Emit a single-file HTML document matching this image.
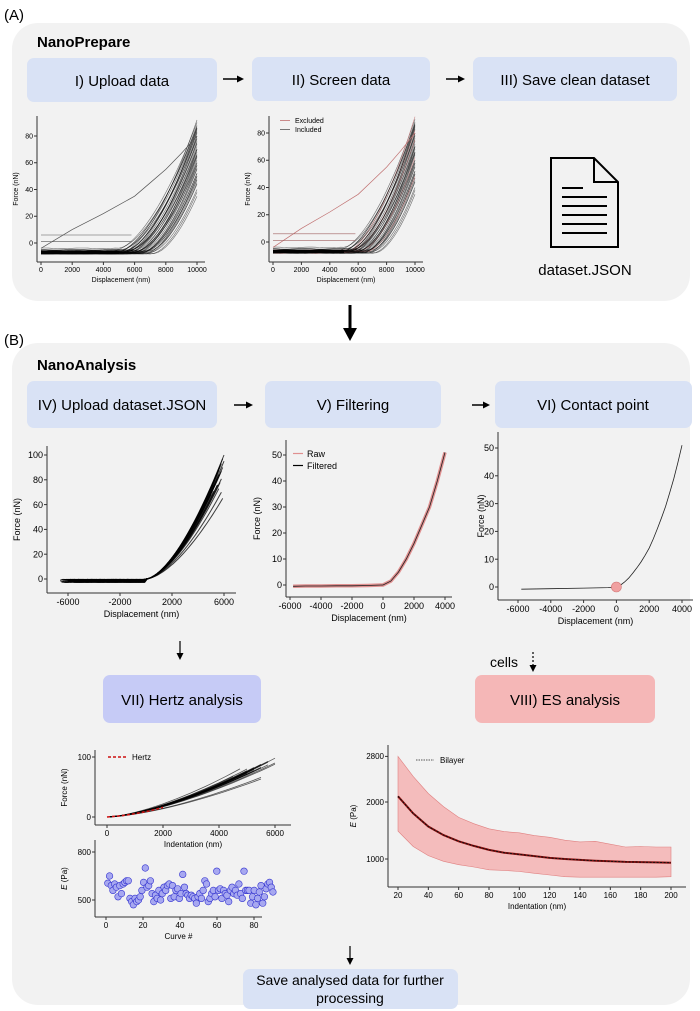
<!DOCTYPE html>
<html><head><meta charset="utf-8"><style>
body{margin:0;background:#fff;width:700px;height:1011px;overflow:hidden;font-family:"Liberation Sans",sans-serif}
svg{display:block}
text{font-family:"Liberation Sans",sans-serif}
</style></head><body>
<svg id="fig" width="700" height="1011" viewBox="0 0 700 1011" xmlns="http://www.w3.org/2000/svg">
<text x="4" y="20" font-size="15">(A)</text>
<rect x="12" y="23" width="678" height="278" rx="26" fill="#f2f2f2"/>
<text x="37" y="47" font-size="15" font-weight="bold">NanoPrepare</text>
<rect x="27" y="58" width="190" height="44" rx="7" fill="#d9e2f5"/>
<text x="122" y="86" font-size="15" text-anchor="middle">I) Upload data</text>
<rect x="252" y="57" width="178" height="44" rx="7" fill="#d9e2f5"/>
<text x="341" y="85" font-size="15" text-anchor="middle">II) Screen data</text>
<rect x="473" y="57" width="204" height="44" rx="7" fill="#d9e2f5"/>
<text x="575" y="85" font-size="15" text-anchor="middle">III) Save clean dataset</text>
<g><line x1="223" y1="79" x2="240" y2="79" stroke="#000" stroke-width="1.5"/><path d="M244 79 L237 75.5 L237 82.5Z"/></g>
<g><line x1="446" y1="79" x2="461" y2="79" stroke="#000" stroke-width="1.5"/><path d="M465 79 L458 75.5 L458 82.5Z"/></g>
<g fill="none" stroke="#000" stroke-width="2">
<path d="M551 158 L594 158 L618 182 L618 247 L551 247Z"/><path d="M594 158 L594 182 L618 182"/>
<line x1="562" y1="188" x2="583" y2="188"/><line x1="562" y1="197" x2="607" y2="197"/><line x1="562" y1="206" x2="607" y2="206"/><line x1="562" y1="215" x2="607" y2="215"/><line x1="562" y1="224" x2="607" y2="224"/><line x1="562" y1="233" x2="607" y2="233"/>
</g>
<text x="585" y="275" font-size="15" text-anchor="middle">dataset.JSON</text>
<g><line x1="350" y1="305" x2="350" y2="330" stroke="#000" stroke-width="3"/><path d="M350 341 L343 328 L357 328Z"/></g>

<text x="4" y="345" font-size="15">(B)</text>
<rect x="12" y="343" width="678" height="662" rx="26" fill="#f2f2f2"/>
<text x="37" y="370" font-size="15" font-weight="bold">NanoAnalysis</text>
<rect x="27" y="381" width="190" height="47" rx="7" fill="#d9e2f5"/>
<text x="122" y="410" font-size="15" text-anchor="middle">IV) Upload dataset.JSON</text>
<rect x="265" y="381" width="176" height="47" rx="7" fill="#d9e2f5"/>
<text x="353" y="410" font-size="15" text-anchor="middle">V) Filtering</text>
<rect x="495" y="381" width="197" height="47" rx="7" fill="#d9e2f5"/>
<text x="593" y="410" font-size="15" text-anchor="middle">VI) Contact point</text>
<g><line x1="234" y1="405" x2="249" y2="405" stroke="#000" stroke-width="1.5"/><path d="M253 405 L246 401.5 L246 408.5Z"/></g>
<g><line x1="472" y1="405" x2="486" y2="405" stroke="#000" stroke-width="1.5"/><path d="M490 405 L483 401.5 L483 408.5Z"/></g>
<g><line x1="180" y1="641" x2="180" y2="655" stroke="#000" stroke-width="1.2"/><path d="M180 660 L176.5 653 L183.5 653Z"/></g>
<text x="490" y="667" font-size="14">cells</text>
<g><line x1="533" y1="652" x2="533" y2="667" stroke="#000" stroke-width="1.2" stroke-dasharray="2,2"/><path d="M533 672 L529.5 665 L536.5 665Z"/></g>
<rect x="103" y="675" width="158" height="48" rx="7" fill="#c6cbf6"/>
<text x="182" y="705" font-size="15" text-anchor="middle">VII) Hertz analysis</text>
<rect x="475" y="675" width="180" height="48" rx="7" fill="#f5b7b7"/>
<text x="565" y="705" font-size="15" text-anchor="middle">VIII) ES analysis</text>
<g><line x1="350" y1="946" x2="350" y2="960" stroke="#000" stroke-width="1.2"/><path d="M350 965 L346.5 958 L353.5 958Z"/></g>
<rect x="243" y="969" width="215" height="40" rx="7" fill="#d9e2f5"/>
<text x="350" y="985" font-size="14" text-anchor="middle">Save analysed data for further</text>
<text x="350" y="1003" font-size="14" text-anchor="middle">processing</text>
</svg>
<script>
// ---- data ----
const rawContacts = [4600,4800,5000,5100,5200,5300,5400,5500,5600,5700,5800,5900,6000,6100,6200,6300,6400,6500,6600,6700,6800,6900,7000,5000,5400,5800,6200,4700,5600,6600,7200,5300,6000,6800,5100,5500,5900,6300,6700,4900,5700,6100,6500,7100];
const rawEndForces = [90,88,85,82,80,84,78,76,75,72,70,68,66,64,62,60,58,55,52,50,47,44,40,92,86,80,70,87,74,48,35,83,65,45,78,70,60,56,50,86,66,58,52,38];
const rawBaselines = [-6,-7,-6,-8,-7,-6,-7,-8,-6,-7,-8,-6,-7,-8,-6,-7,-8,-7,-6,-8,-7,-6,-7,-8,-7,-6,-7,-8,-6,-7,-8,-6,-7,-8,-5,-6,-7,-8,-6,-4,-5,-6,-7,-8];
const excludedIdx = [3,8,14,23,29];
const oddLineX = [0,2000,4000,6000,7000,8000,9000,10000];
const oddLineF = [-4,10,22,35,45,55,67,80];
const flatLevels = [6,1];
const alignedEnd = [100,97,95,93,91,90,88,87,86,85,84,83,82,80,79,78,76,75,73,70,92,89,86,84,81,78,74,71,68,65];
const alignedStartX = [-6600,-6500,-6000,-5800,-6500,-5500,-6200,-5000,-6400,-5900,-6600,-6000,-5300,-6300,-5700,-6500,-6100,-5600,-6200,-6400,-6000,-5800,-6300,-5900,-6100,-6400,-5500,-6000,-6200,-5700];
const alignedEndX = [6000,5900,6000,5800,5700,5900,5600,5800,5500,5700,5600,5900,5500,5800,5400,5600,5500,5700,5300,5800,5750,5650,5550,5450,5350,5300,5200,5100,5000,5900];
const filtX = [-5800,-5000,-4000,-3000,-2000,-1000,0,500,1000,1500,2000,2500,3000,3500,4000];
const filtF = [-0.5,-0.4,-0.4,-0.3,-0.3,-0.2,0,1.5,5,10,16,23,30,40,51];
const cpX = [-5800,-4000,-2000,-500,0,250,500,750,1000,1250,1500,1750,2000,2250,2500,2750,3000,3250,3500,3750,4000];
const cpF = [-0.8,-0.6,-0.4,-0.2,0,0.7,1.8,3.2,5,6.9,9,11.4,14,17.3,21,24.9,29,33.9,39,44.8,51];
const contactPoint = [0,0];
const hertzEndX = [6000,5900,6000,5800,5600,5500,5400,5300,5200,5100,5000,4900,4800,5700,5500,6000,5600,5400,5200,5000,4700,5800,5300,5100,4900,5600];
const hertzEndF = [98,95,90,88,85,82,84,80,78,76,75,72,70,92,66,88,65,86,82,80,72,94,78,74,84,90];
const hertzFitX = [0,500,1000,1500,2000];
const hertzFitF = [0,2,5.5,10,16];
const modulusE = [605,650,590,560,600,580,520,590,540,600,610,620,620,510,490,470,510,490,500,520,560,610,700,580,590,620,540,490,530,510,560,500,540,580,560,590,600,510,590,520,560,570,510,540,660,580,540,530,510,530,520,510,480,520,540,510,560,620,600,490,510,540,560,520,680,560,570,510,560,540,530,490,560,580,540,560,530,600,540,510,680,560,560,560,480,520,560,470,510,550,590,480,520,570,600,610,580,550];
const esX = [20,30,40,50,60,70,80,90,100,110,120,130,140,150,160,170,180,190,200];
const esMean = [2100,1800,1570,1420,1310,1230,1160,1110,1080,1050,1020,1000,985,970,960,950,945,940,935];
const esUpper = [2800,2450,2150,1920,1730,1620,1530,1480,1460,1410,1380,1330,1300,1310,1260,1210,1220,1210,1210];
const esLower = [1490,1220,1060,960,900,860,810,800,780,750,720,690,680,680,680,680,680,680,690];

const NS="http://www.w3.org/2000/svg";
const fig=document.getElementById('fig');
function mk(tag,attrs,parent){const e=document.createElementNS(NS,tag);for(const k in attrs)e.setAttribute(k,attrs[k]);(parent||fig).appendChild(e);return e;}
function lin(d0,d1,p0,p1){return v=>p0+(v-d0)*(p1-p0)/(d1-d0);}
function axes(name,c){
  const g=mk('g',{});
  
  
  mk('line',{x1:c.ax,y1:c.yTop,x2:c.ax,y2:c.ay,stroke:'#333','stroke-width':1},g);
  mk('line',{x1:c.ax,y1:c.ay,x2:c.xRight,y2:c.ay,stroke:'#333','stroke-width':1},g);
  c.xt.forEach(v=>{const x=c.sx(v);mk('line',{x1:x,y1:c.ay,x2:x,y2:c.ay+3,stroke:'#333'},g);
    const t=mk('text',{x:x,y:c.ay+c.fs+3,'font-size':c.fs,'text-anchor':'middle'},g);t.textContent=v;
    });
  c.yt.forEach(v=>{const y=c.sy(v);mk('line',{x1:c.ax-3,y1:y,x2:c.ax,y2:y,stroke:'#333'},g);
    const t=mk('text',{x:c.ax-4,y:y+c.fs*0.35,'font-size':c.fs,'text-anchor':'end'},g);t.textContent=v;
    });
  const xl=mk('text',{x:(c.ax+c.xRight)/2,y:c.ay+c.fs*2+6,'font-size':c.fs,'text-anchor':'middle'},g);xl.textContent=c.xl;
  
  const yx=c.ylx,yy=(c.yTop+c.ay)/2;
  const yl=mk('text',{x:yx,y:yy,'font-size':c.fs,'text-anchor':'middle',transform:`rotate(-90 ${yx} ${yy})`},g);
  if(c.italicE){const ts=mk('tspan',{'font-style':'italic'},yl);ts.textContent='E';const t2=mk('tspan',{},yl);t2.textContent=' (Pa)';}
  else yl.textContent=c.yl;
  
  return g;
}
function pathOf(xs,ys,sx,sy){return xs.map((x,i)=>(i?'L':'M')+sx(x).toFixed(1)+' '+sy(ys[i]).toFixed(1)).join(' ');}
function rawCurve(i,sx,sy){const c=rawContacts[i],e=rawEndForces[i],b=rawBaselines[i];const xs=[],ys=[];
  for(let x=0;x<=10000;x+=250){xs.push(x);ys.push(x<c?b+0.3*Math.sin(x/400+i):b+(e-b)*Math.pow((x-c)/(10000-c),1.7));}
  return pathOf(xs,ys,sx,sy);}
function drawRaw(name,x0,x1,y0,y80,ax,ay,showExcl){
  const sx=lin(0,10000,x0,x1),sy=lin(0,80,y0,y80);
  axes(name,{sx,sy,ax,ay,yTop:ay-146,xRight:x1+8,xt:[0,2000,4000,6000,8000,10000],yt:[0,20,40,60,80],fs:7,xl:'Displacement (nm)',yl:'Force (nN)',ylx:ax-19});
  const g=mk('g',{fill:'none'});
  
  rawContacts.forEach((c,i)=>{const ex=showExcl&&excludedIdx.includes(i);
    const p=mk('path',{d:rawCurve(i,sx,sy),stroke:ex?'#c07070':'#000','stroke-width':0.6,'stroke-opacity':ex?0.8:0.55},g);
    });
  const o=mk('path',{d:pathOf(oddLineX,oddLineF,sx,sy),stroke:showExcl?'#c07070':'#555','stroke-width':0.7},g);
  
  flatLevels.forEach(l=>{const f=mk('path',{d:pathOf([0,5800],[l,l],sx,sy),stroke:showExcl?'#a06060':'#555','stroke-width':0.6},g);
    });
  const bb=mk('path',{d:pathOf([0,5000],[-7,-7],sx,sy),stroke:'#000','stroke-width':3},g);
  
}
drawRaw('chart-upload',41,197,243,136,37,262,false);
drawRaw('chart-screen',273,415,242,133,269,262,true);
[['Excluded','#c07070',123],['Included','#555',132]].forEach(([t,c,y])=>{
  const l=mk('line',{x1:280,y1:y-2.5,x2:290,y2:y-2.5,stroke:c,'stroke-width':0.8});
  
  const tx=mk('text',{x:295,y:y,'font-size':7},);tx.textContent=t;
  });

(function(){
  const sx=lin(-6000,6000,68,224),sy=lin(0,100,579,455);
  axes('chart-aligned',{sx,sy,ax:47,ay:593,yTop:446,xRight:236,xt:[-6000,-2000,2000,6000],yt:[0,20,40,60,80,100],fs:9,xl:'Displacement (nm)',yl:'Force (nN)',ylx:20});
  const g=mk('g',{fill:'none'});
  alignedEnd.forEach((e,i)=>{const xs=[],ys=[];const s=alignedStartX[i],en=alignedEndX[i];
    for(let x=s;x<=en;x+=200){xs.push(x);ys.push(x<0?-1.5+1.2*Math.sin(x/300+i):e*Math.pow(x/en,1.6));}
    const p=mk('path',{d:pathOf(xs,ys,sx,sy),stroke:'#000','stroke-width':1,'stroke-opacity':0.75},g);
    });
})();
(function(){
  const sx=lin(-6000,4000,290,445),sy=lin(0,50,585,455);
  axes('chart-filtering',{sx,sy,ax:286,ay:597,yTop:440,xRight:452,xt:[-6000,-4000,-2000,0,2000,4000],yt:[0,10,20,30,40,50],fs:9,xl:'Displacement (nm)',yl:'Force (nN)',ylx:260});
  const r=mk('path',{d:pathOf(filtX,filtF,sx,sy),fill:'none',stroke:'#e09090','stroke-width':3.5});
  
  const f=mk('path',{d:pathOf(filtX,filtF,sx,sy),fill:'none',stroke:'#222','stroke-width':0.8});
  
  [['Raw','#e09090',457],['Filtered','#000',469]].forEach(([t,c,y])=>{
    const l=mk('line',{x1:293,y1:y-3.5,x2:303,y2:y-3.5,stroke:c,'stroke-width':1.2});
    
    const tx=mk('text',{x:307,y:y,'font-size':9});tx.textContent=t;
    });
})();
(function(){
  const sx=lin(-6000,4000,518,682),sy=lin(0,50,587,448);
  axes('chart-contact',{sx,sy,ax:498,ay:600,yTop:432,xRight:693,xt:[-6000,-4000,-2000,0,2000,4000],yt:[0,10,20,30,40,50],fs:9,xl:'Displacement (nm)',yl:'Force (nN)',ylx:484});
  const p=mk('path',{d:pathOf(cpX,cpF,sx,sy),fill:'none',stroke:'#222','stroke-width':0.8});
  
  const c=mk('circle',{cx:sx(contactPoint[0]),cy:sy(contactPoint[1]),r:5,fill:'#f0a0a0',stroke:'#d07070','stroke-width':0.6});
  
})();
(function(){
  const sx=lin(0,6000,107,275),sy=lin(0,100,817,757);
  axes('chart-hertz',{sx,sy,ax:95,ay:825,yTop:750,xRight:291,xt:[0,2000,4000,6000],yt:[0,100],fs:8,xl:'Indentation (nm)',yl:'Force (nN)',ylx:67});
  const g=mk('g',{fill:'none'});
  hertzEndX.forEach((ex,i)=>{const xs=[],ys=[];for(let x=0;x<=ex;x+=250){xs.push(x);ys.push(hertzEndF[i]*Math.pow(x/ex,1.5));}
    const p=mk('path',{d:pathOf(xs,ys,sx,sy),stroke:'#000','stroke-width':0.8,'stroke-opacity':0.65},g);
    });
  const h=mk('path',{d:pathOf(hertzFitX,hertzFitF,sx,sy),fill:'none',stroke:'#cc1111','stroke-width':1.6,'stroke-dasharray':'3,2'});
  
  const l=mk('line',{x1:108,y1:757,x2:127,y2:757,stroke:'#cc1111','stroke-width':1.6,'stroke-dasharray':'3,2'});
  
  const t=mk('text',{x:132,y:760,'font-size':8});t.textContent='Hertz';
  
})();
(function(){
  const sx=lin(0,80,106,254),sy=lin(500,800,900,852);
  axes('chart-modulus',{sx,sy,ax:95,ay:917,yTop:840,xRight:262,xt:[0,20,40,60,80],yt:[500,800],fs:8,xl:'Curve #',yl:'E (Pa)',ylx:67,italicE:true});
  modulusE.forEach((v,i)=>{const c=mk('circle',{cx:sx(i*0.92+1),cy:sy(v),r:3.3,fill:'#a7a8f0',stroke:'#3434d0','stroke-width':0.6});
    });
})();
(function(){
  const sx=lin(20,200,398,671),sy=lin(1000,2000,859,802);
  axes('chart-es',{sx,sy,ax:388,ay:887,yTop:745,xRight:686,xt:[20,40,60,80,100,120,140,160,180,200],yt:[1000,2000,2800],fs:8,xl:'Indentation (nm)',yl:'E (Pa)',ylx:356,italicE:true});
  const band=pathOf(esX,esUpper,sx,sy)+' '+esX.slice().reverse().map((x,i)=>'L'+sx(x).toFixed(1)+' '+sy(esLower[esX.length-1-i]).toFixed(1)).join(' ')+'Z';
  const b=mk('path',{d:band,fill:'#f4b6b6',stroke:'#e08080','stroke-width':0.6,'fill-opacity':0.9});
  
  const m=mk('path',{d:pathOf(esX,esMean,sx,sy),fill:'none',stroke:'#8b1010','stroke-width':2});
  
  const d=mk('path',{d:pathOf(esX,esMean,sx,sy),fill:'none',stroke:'#111','stroke-width':1,'stroke-dasharray':'2,1.5'});
  
  const l=mk('line',{x1:416,y1:760,x2:434,y2:760,stroke:'#555','stroke-width':1,'stroke-dasharray':'1.5,1'});
  
  const t=mk('text',{x:440,y:763,'font-size':8});t.textContent='Bilayer';
  
})();
</script>
</body></html>
